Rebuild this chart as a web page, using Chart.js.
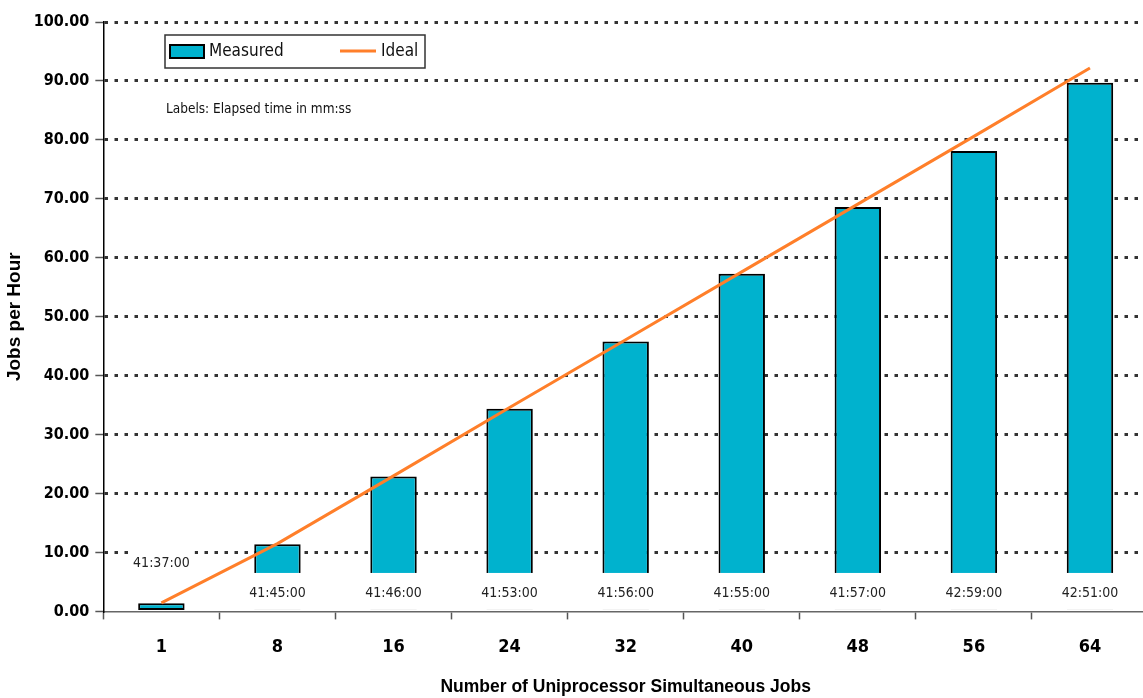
<!DOCTYPE html>
<html>
<head>
<meta charset="utf-8">
<script src="https://cdn.jsdelivr.net/npm/chart.js@4.4.1/dist/chart.umd.min.js"></script>
<style>
  html, body { margin: 0; padding: 0; background: #fff; overflow: hidden; }
  #wrap { width: 1150px; height: 698px; }
</style>
</head>
<body>
<div id="wrap"><canvas id="myChart" width="1150" height="698"></canvas></div>
<script>
const jobs = ["1", "8", "16", "24", "32", "40", "48", "56", "64"];
const measured = [1.4, 11.4, 22.9, 34.4, 45.8, 57.3, 68.6, 78.1, 89.7];
const ideal = [1.44, 11.5, 23.0, 34.6, 46.1, 57.6, 69.1, 80.6, 92.2];
const elapsed = ["41:37:00", "41:45:00", "41:46:00", "41:53:00", "41:56:00",
                 "41:55:00", "41:57:00", "42:59:00", "42:51:00"];
const noteText = "Labels: Elapsed time in mm:ss";

const NARROW = '"Liberation Sans Narrow", "DejaVu Sans Condensed", sans-serif';
const BAR_COLOR = "#00B2CE";
const LINE_COLOR = "#FF7F2A";

// time labels on white boxes + legend box + note
const extras = {
  id: "extras",
  afterDatasetsDraw(chart) {
    const ctx = chart.ctx;
    const y = chart.scales.y;
    const meta = chart.getDatasetMeta(1);
    ctx.save();
    ctx.font = "14px " + NARROW;
    ctx.textAlign = "center";
    ctx.textBaseline = "middle";
    meta.data.forEach((bar, i) => {
      let cy;
      if (measured[i] < 6) {
        cy = y.getPixelForValue(measured[i]) - 41;
      } else {
        cy = y.getPixelForValue(3.3);
      }
      const w = ctx.measureText(elapsed[i]).width;
      ctx.fillStyle = "#fff";
      ctx.fillRect(bar.x - w / 2 - 5, cy - 19, w + 10, 37);
      ctx.fillStyle = "#222";
      ctx.fillText(elapsed[i], bar.x, cy + 1);
    });
    ctx.restore();
  },
  afterDraw(chart) {
    const ctx = chart.ctx;
    ctx.save();
    // legend box
    ctx.fillStyle = "#fff";
    ctx.fillRect(165, 35, 260, 33);
    ctx.strokeStyle = "#333";
    ctx.lineWidth = 1.5;
    ctx.strokeRect(165, 35, 260, 33);
    ctx.fillStyle = BAR_COLOR;
    ctx.fillRect(170, 45, 34, 13);
    ctx.strokeStyle = "#000";
    ctx.lineWidth = 2;
    ctx.strokeRect(170, 45, 34, 13);
    ctx.strokeStyle = LINE_COLOR;
    ctx.lineWidth = 3;
    ctx.beginPath();
    ctx.moveTo(340, 51);
    ctx.lineTo(376, 51);
    ctx.stroke();
    ctx.fillStyle = "#111";
    ctx.font = "17px " + NARROW;
    ctx.textBaseline = "middle";
    ctx.textAlign = "left";
    ctx.fillText(chart.data.datasets[1].label, 209, 52);
    ctx.fillText(chart.data.datasets[0].label, 381, 52);
    // note
    ctx.font = "13.5px " + NARROW;
    ctx.fillText(noteText, 166, 109);
    ctx.restore();
  }
};

const ctx = document.getElementById("myChart").getContext("2d");
const chart = new Chart(ctx, {
  type: "bar",
  data: {
    labels: jobs,
    datasets: [{
      type: "line",
      label: "Ideal",
      data: ideal,
      borderColor: LINE_COLOR,
      borderWidth: 3,
      pointRadius: 0,
      tension: 0,
      order: 0
    }, {
      type: "bar",
      label: "Measured",
      data: measured,
      backgroundColor: BAR_COLOR,
      borderColor: "#000",
      borderWidth: 2,
      borderSkipped: false,
      barPercentage: 0.4,
      categoryPercentage: 1.0,
      order: 1
    }]
  },
  options: {
    responsive: false,
    animation: false,
    layout: { padding: { left: 3, right: 2, top: 22, bottom: 0 } },
    plugins: {
      legend: { display: false },
      tooltip: { enabled: false }
    },
    scales: {
      x: {
        offset: true,
        grid: {
          offset: true,
          drawOnChartArea: false,
          tickLength: 8,
          tickColor: "#555",
          tickWidth: 1.5
        },
        border: { color: "#666", width: 1.5 },
        ticks: {
          color: "#000",
          padding: 17,
          font: { family: NARROW, size: 18, weight: "bold" }
        },
        title: {
          display: true,
          text: "Number of Uniprocessor Simultaneous Jobs",
          color: "#000",
          padding: { top: 2, bottom: 0 },
          font: { family: "Liberation Sans, Arial, sans-serif", size: 17.5, weight: "bold" }
        }
      },
      y: {
        min: 0,
        max: 100,
        ticks: {
          stepSize: 10,
          color: "#000",
          padding: 6,
          font: { family: NARROW, size: 16, weight: "bold" },
          callback: v => v.toFixed(2)
        },
        grid: {
          color: c => (c.tick && c.tick.value === 0 ? "rgba(0,0,0,0)" : "#333"),
          lineWidth: 3,
          tickLength: 8,
          tickColor: "#555",
          tickWidth: 1.5
        },
        border: { color: "#000", width: 1.5, dash: [3.5, 6.5] },
        title: {
          display: true,
          text: "Jobs per Hour",
          color: "#000",
          padding: { top: 0, bottom: 2 },
          font: { family: "Liberation Sans, Arial, sans-serif", size: 19, weight: "bold" }
        }
      }
    }
  },
  plugins: [extras]
});
</script>
</body>
</html>
